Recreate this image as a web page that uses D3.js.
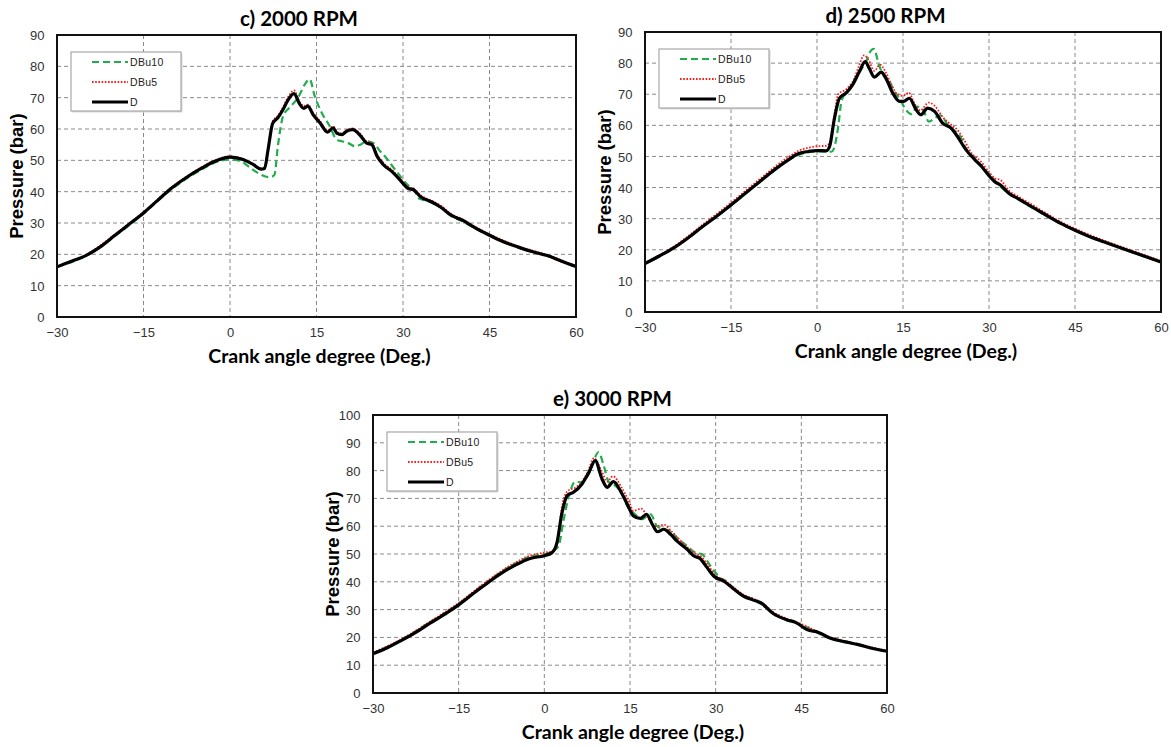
<!DOCTYPE html>
<html><head><meta charset="utf-8">
<script src="https://cdn.jsdelivr.net/npm/d3@7"></script>
<style>body{margin:0;background:#fff}svg{display:block}</style>
</head><body>
<svg id="chart" width="1171" height="747"></svg>
<script>
// ---------- data ----------
const xTicks = [-30, -15, 0, 15, 30, 45, 60];
const yTicks90 = [0, 10, 20, 30, 40, 50, 60, 70, 80, 90];
const yTicks100 = [0, 10, 20, 30, 40, 50, 60, 70, 80, 90, 100];
const seriesNames = ["DBu10", "DBu5", "D"];
const titles = ["c) 2000 RPM", "d) 2500 RPM", "e) 3000 RPM"];
const xTitle = "Crank angle degree (Deg.)";
const yTitle = "Pressure (bar)";

// 2000 RPM  [crank angle, pressure]
const rpm2000_D = [[-30,16.0],[-27.5,17.8],[-25,19.6],[-22.5,22.4],[-20,26.0],[-17.5,29.6],[-15,33.2],[-12.5,37.3],[-10,41.3],[-7.5,44.6],[-5,47.4],[-2.5,49.8],[0,51.0],[2,50.4],[4,48.7],[5.4,47.2],[6,47.4],[6.6,53.4],[7.4,61.8],[8.3,63.6],[9.2,66.2],[10.1,69.4],[11.1,71.3],[12.1,67.9],[12.8,66.6],[13.5,67.3],[14.4,64.6],[15.6,62.0],[16.9,59.0],[17.9,60.4],[18.5,58.7],[19.4,58.2],[20.2,59.3],[21.3,59.8],[22.6,57.9],[23.7,55.5],[24.6,55.0],[25.5,51.3],[26.6,48.6],[28.1,46.4],[29.5,43.7],[30.9,41.0],[31.8,40.6],[33.1,38.3],[35,36.7],[36.5,35.1],[38.4,32.4],[40.3,30.9],[42.3,28.7],[45,26.1],[46.8,24.5],[50,22.3],[52.5,20.8],[55,19.6],[57.5,17.8],[60,16.1]];
const rpm2000_DBu5 = [[-30,16.1],[-25,19.8],[-20,26.3],[-15,33.5],[-10,41.6],[-5,47.7],[-2.5,50.1],[0,51.3],[2,50.6],[4,48.8],[5.4,47.4],[6,47.8],[6.6,54.0],[7.4,62.5],[8.3,64.2],[9.2,67.0],[10.1,70.3],[11.1,72.3],[12.1,68.5],[12.8,67.3],[13.5,67.8],[14.4,65.2],[15.6,62.5],[16.9,59.5],[17.9,60.8],[18.5,59.2],[19.4,58.6],[20.2,59.6],[21.3,60.2],[22.6,58.4],[23.7,56.0],[24.6,55.6],[25.5,52.0],[26.6,49.2],[28.1,46.9],[29.5,44.2],[30.9,41.5],[31.8,41.0],[33.1,38.8],[35,37.1],[36.5,35.6],[38.4,32.8],[40.3,31.2],[42.3,29.0],[45,26.4],[50,22.6],[55,19.8],[60,16.3]];
const rpm2000_DBu10 = [[-30,16.0],[-25,19.5],[-20,25.8],[-15,33.0],[-10,41.0],[-5,47.0],[-2.5,49.4],[0,50.3],[2,49.6],[3.4,47.8],[5.4,45.4],[6.9,44.6],[7.7,45.3],[8.3,54.5],[9.2,64.1],[10.3,66.8],[11.8,70.0],[13,74.3],[13.8,75.9],[14.7,70.5],[15.9,65.2],[17.3,60.9],[18.5,56.6],[19.4,56.1],[20.5,55.5],[21.7,54.5],[22.6,55.0],[23.7,56.1],[24.9,55.5],[26,53.0],[27,51.0],[27.9,48.8],[29.2,45.7],[30.9,42.0],[31.8,41.0],[32.8,37.8],[34,37.2],[35,36.5],[36.5,35.0],[38.4,32.2],[40.3,30.5],[42.3,28.5],[45,26.0],[50,22.2],[55,19.5],[60,16.0]];

// 2500 RPM
const rpm2500_D = [[-30,15.6],[-27.5,18.0],[-25,20.6],[-22.5,23.8],[-20,27.4],[-17.5,30.8],[-15,34.4],[-12.5,38.2],[-10,41.9],[-7.5,45.6],[-5,48.9],[-3.4,50.8],[-1.5,51.6],[0,51.9],[1.6,51.8],[2.2,53.2],[3,61.8],[3.9,68.7],[5.1,70.4],[6.2,73.0],[7.4,77.3],[8.4,80.5],[9.1,78.4],[10,75.5],[11.2,77.1],[12,75.2],[13.2,70.4],[14.4,67.7],[15.1,67.7],[16.1,68.7],[17.3,65.0],[18.1,63.4],[19.3,65.5],[20.5,64.5],[21.9,60.7],[23.4,59.1],[24.5,56.4],[26,52.1],[27.5,49.0],[28.6,47.0],[30,43.8],[31,41.9],[32,40.8],[33.5,38.1],[35,36.5],[37.5,33.8],[40,31.1],[42.5,28.5],[45,26.3],[47.5,24.3],[50,22.6],[55,19.3],[60,16.1]];
const rpm2500_DBu5 = [[-30,15.8],[-25,21.0],[-20,28.0],[-15,35.1],[-10,42.7],[-5,49.8],[-3,52.0],[-1,53.0],[0,53.3],[1.6,53.4],[2.2,54.5],[3,63.0],[3.7,70.0],[5.1,71.6],[6.5,75.0],[7.3,79.0],[8.2,82.5],[9,81.0],[10,77.5],[11,79.5],[12,77.0],[13,73.0],[14,70.0],[15,69.5],[16,70.5],[17,67.0],[18,64.8],[19.5,67.3],[20.5,66.3],[22,62.5],[23.5,60.0],[24.5,58.5],[25.5,55.8],[27,51.0],[28.5,48.5],[30,45.0],[31,43.0],[32,42.4],[33.5,39.0],[35,37.2],[37.5,34.5],[40,31.7],[42.5,29.0],[45,26.8],[50,23.0],[55,19.7],[60,16.4]];
const rpm2500_DBu10 = [[-30,15.6],[-25,20.5],[-20,27.3],[-15,34.3],[-10,41.8],[-5,48.8],[-2,51.2],[0,51.6],[2,51.5],[2.6,51.6],[3.1,53.5],[3.7,59.6],[4.3,68.0],[5.5,71.4],[7,76.0],[8.5,80.3],[9.4,84.0],[9.9,84.6],[10.8,79.5],[11.5,76.3],[12.5,74.6],[13.5,70.9],[14.5,68.2],[15.5,65.0],[16.5,63.6],[17.5,66.0],[18.5,65.0],[19.5,61.2],[20.5,62.3],[21.5,63.2],[23,59.6],[25,56.4],[26,52.6],[27.5,49.4],[30,44.4],[32,40.3],[33,38.7],[35,36.3],[37.5,33.6],[40,30.9],[42.5,28.4],[45,26.2],[50,22.5],[55,19.2],[60,16.0]];

// 3000 RPM
const rpm3000_D = [[-30,14.1],[-27.5,16.3],[-25,18.9],[-22.5,21.8],[-20,25.1],[-17.5,28.3],[-15,31.7],[-12.5,35.7],[-10,39.5],[-7.5,43.1],[-5,46.1],[-2.5,48.4],[0,49.4],[1.3,50.4],[2.2,54.0],[3.1,64.9],[4,71.0],[5.1,72.2],[6.6,75.2],[7.8,79.4],[8.9,83.6],[10.1,77.0],[11,74.0],[12.1,76.0],[13.3,72.8],[14.5,68.0],[15.6,63.7],[16.8,62.8],[17.9,64.3],[18.9,60.7],[19.8,58.0],[20.9,58.9],[22.1,57.1],[23.2,54.7],[25,51.7],[26.2,49.3],[27.3,48.3],[28.5,45.1],[29.7,42.0],[31.5,40.1],[33,37.7],[35,34.7],[36.5,33.5],[38,32.3],[40,28.7],[42.5,26.3],[44,25.4],[46,22.8],[48,21.8],[50,19.8],[52.5,18.5],[55,17.4],[57.5,16.0],[60,15.0]];
const rpm3000_DBu5 = [[-30,14.5],[-25,19.4],[-20,25.7],[-15,32.4],[-10,40.3],[-5,47.0],[-2.5,49.4],[0,50.5],[1.3,51.0],[2.2,53.0],[3,66.0],[4,72.5],[5.5,74.0],[6.6,76.0],[7.6,79.5],[8.7,84.5],[10,80.0],[11,76.0],[12,78.0],[13.5,74.0],[14.8,69.0],[15.6,65.5],[17,66.3],[18,63.5],[19.5,60.0],[21,60.5],[22.1,58.5],[23.5,55.5],[25,52.5],[26.3,50.3],[27.5,49.0],[28.5,46.5],[30,42.3],[31.5,40.6],[33,38.2],[35,35.2],[36.5,34.0],[38,32.6],[40,29.2],[42.5,26.7],[45,24.8],[50,20.1],[55,17.6],[60,15.2]];
const rpm3000_DBu10 = [[-30,14.3],[-25,19.2],[-20,25.5],[-15,32.1],[-10,40.0],[-5,46.7],[-2.5,49.1],[0,49.9],[1.6,51.1],[2.5,52.9],[3.4,62.5],[4.3,71.0],[5.4,76.0],[6.6,75.8],[7.8,78.8],[9.5,86.6],[10.4,81.8],[11.3,75.8],[12.4,74.6],[13.6,71.6],[14.5,67.3],[15.9,64.3],[17.1,62.5],[18.6,64.3],[19.7,60.1],[20.9,58.9],[22.1,58.3],[23.2,55.9],[25,52.9],[26.4,50.5],[27.6,49.9],[29.1,45.7],[30.8,41.4],[32,40.0],[33,37.8],[35,34.6],[36.5,33.4],[38,32.0],[40,28.6],[42.5,26.2],[45,24.5],[50,19.7],[55,17.3],[60,15.0]];

// ---------- layout / style ----------
const panels = [
  {title: titles[0], yTicks: yTicks90,  data: [rpm2000_DBu10, rpm2000_DBu5, rpm2000_D], box: {x: 57,  y: 35,  w: 519, h: 282}},
  {title: titles[1], yTicks: yTicks90,  data: [rpm2500_DBu10, rpm2500_DBu5, rpm2500_D], box: {x: 645, y: 32,  w: 516, h: 280}},
  {title: titles[2], yTicks: yTicks100, data: [rpm3000_DBu10, rpm3000_DBu5, rpm3000_D], box: {x: 373, y: 415, w: 514, h: 278}}
];
const styles = {
  DBu10: {stroke: "#1fae4b", width: 2.2, dash: "7,4"},
  DBu5:  {stroke: "#ff1a1a", width: 1.8, dash: "1.6,1.6"},
  D:     {stroke: "#000000", width: 3.2, dash: null}
};

const svg = d3.select("#chart");

panels.forEach((p, pi) => {
  const b = p.box;
  const g = svg.append("g");
  const x = d3.scaleLinear().domain([xTicks[0], xTicks[xTicks.length - 1]]).range([b.x, b.x + b.w]);
  const y = d3.scaleLinear().domain([0, p.yTicks[p.yTicks.length - 1]]).range([b.y + b.h, b.y]);

  // grid
  g.selectAll(".vg").data(xTicks.slice(1, -1)).join("line")
    .attr("x1", d => x(d)).attr("x2", d => x(d)).attr("y1", b.y).attr("y2", b.y + b.h)
    .attr("stroke", "#8a8a8a").attr("stroke-width", 1).attr("stroke-dasharray", "4,3");
  g.selectAll(".hg").data(p.yTicks.slice(1, -1)).join("line")
    .attr("x1", b.x).attr("x2", b.x + b.w).attr("y1", d => y(d)).attr("y2", d => y(d))
    .attr("stroke", "#8a8a8a").attr("stroke-width", 1).attr("stroke-dasharray", "4,3");

  // axes tick labels
  const xAxis = d3.axisBottom(x).tickValues(xTicks).tickSize(0).tickPadding(0);
  const ga = g.append("g").attr("transform", `translate(0,${b.y + b.h})`).call(xAxis);
  ga.select(".domain").remove();
  ga.selectAll("text").attr("dy", null).attr("y", 20)
    .attr("font-family", "Liberation Sans, Arial, sans-serif").attr("font-size", 13).attr("fill", "#333");
  const yAxis = d3.axisLeft(y).tickValues(p.yTicks).tickSize(0).tickPadding(0);
  const gy = g.append("g").attr("transform", `translate(${b.x},0)`).call(yAxis);
  gy.select(".domain").remove();
  gy.selectAll("text").attr("x", -12.5).attr("dy", "0.35em")
    .attr("font-family", "Liberation Sans, Arial, sans-serif").attr("font-size", 13).attr("fill", "#333");

  // clip
  const cid = "clip" + pi;
  svg.append("clipPath").attr("id", cid).append("rect").attr("x", b.x).attr("y", b.y).attr("width", b.w).attr("height", b.h);

  const line = d3.line().x(d => x(d[0])).y(d => y(d[1])).curve(d3.curveMonotoneX);
  const gl = g.append("g").attr("clip-path", `url(#${cid})`);
  p.data.forEach((ser, si) => {
    const st = styles[seriesNames[si]];
    gl.append("path").datum(ser).attr("d", line)
      .attr("fill", "none").attr("stroke", st.stroke).attr("stroke-width", st.width)
      .attr("stroke-dasharray", st.dash).attr("stroke-linejoin", "round").attr("stroke-linecap", st.dash ? "butt" : "round");
  });

  // frame
  g.append("rect").attr("x", b.x).attr("y", b.y).attr("width", b.w).attr("height", b.h)
    .attr("fill", "none").attr("stroke", "#111").attr("stroke-width", 2);

  // legend
  const lx = b.x + 14, ly = b.y + 17;
  const lg = g.append("g");
  lg.append("rect").attr("x", lx + 1.5).attr("y", ly + 1.5).attr("width", 110).attr("height", 59).attr("fill", "#d8d8d8");
  lg.append("rect").attr("x", lx).attr("y", ly).attr("width", 110).attr("height", 59)
    .attr("fill", "#fff").attr("stroke", "#a8a8a8").attr("stroke-width", 1.2);
  seriesNames.forEach((nm, i) => {
    const st = styles[nm];
    const yy = ly + 10 + i * 20;
    lg.append("line").attr("x1", lx + 21).attr("x2", lx + 57).attr("y1", yy).attr("y2", yy)
      .attr("stroke", st.stroke).attr("stroke-width", st.width).attr("stroke-dasharray", st.dash);
    lg.append("text").attr("x", lx + 59).attr("y", yy + 4).text(nm)
      .attr("font-family", "Liberation Sans, Arial, sans-serif").attr("font-size", 10.5).attr("fill", "#222")
      .attr("letter-spacing", 0.3);
  });

  // titles
  g.append("text").attr("x", b.x + b.w / 2 - 17.5).attr("y", b.y - 9).attr("text-anchor", "middle")
    .attr("font-family", "Lato, sans-serif").attr("font-weight", 700).attr("font-size", 20.5).attr("fill", "#000").text(p.title);
  g.append("text").attr("x", b.x + b.w / 2 + 3).attr("y", b.y + b.h + 46).attr("text-anchor", "middle")
    .attr("font-family", "Lato, sans-serif").attr("font-weight", 700).attr("font-size", 19.5).attr("fill", "#000").text(xTitle);
  g.append("text").attr("transform", `translate(${b.x - 40},${b.y + b.h / 2}) rotate(-90)`).attr("text-anchor", "middle")
    .attr("dy", "0.35em")
    .attr("font-family", "Liberation Sans, Arial, sans-serif").attr("font-weight", 700).attr("font-size", 18.5).attr("fill", "#000").text(yTitle);
});
</script>
</body></html>
